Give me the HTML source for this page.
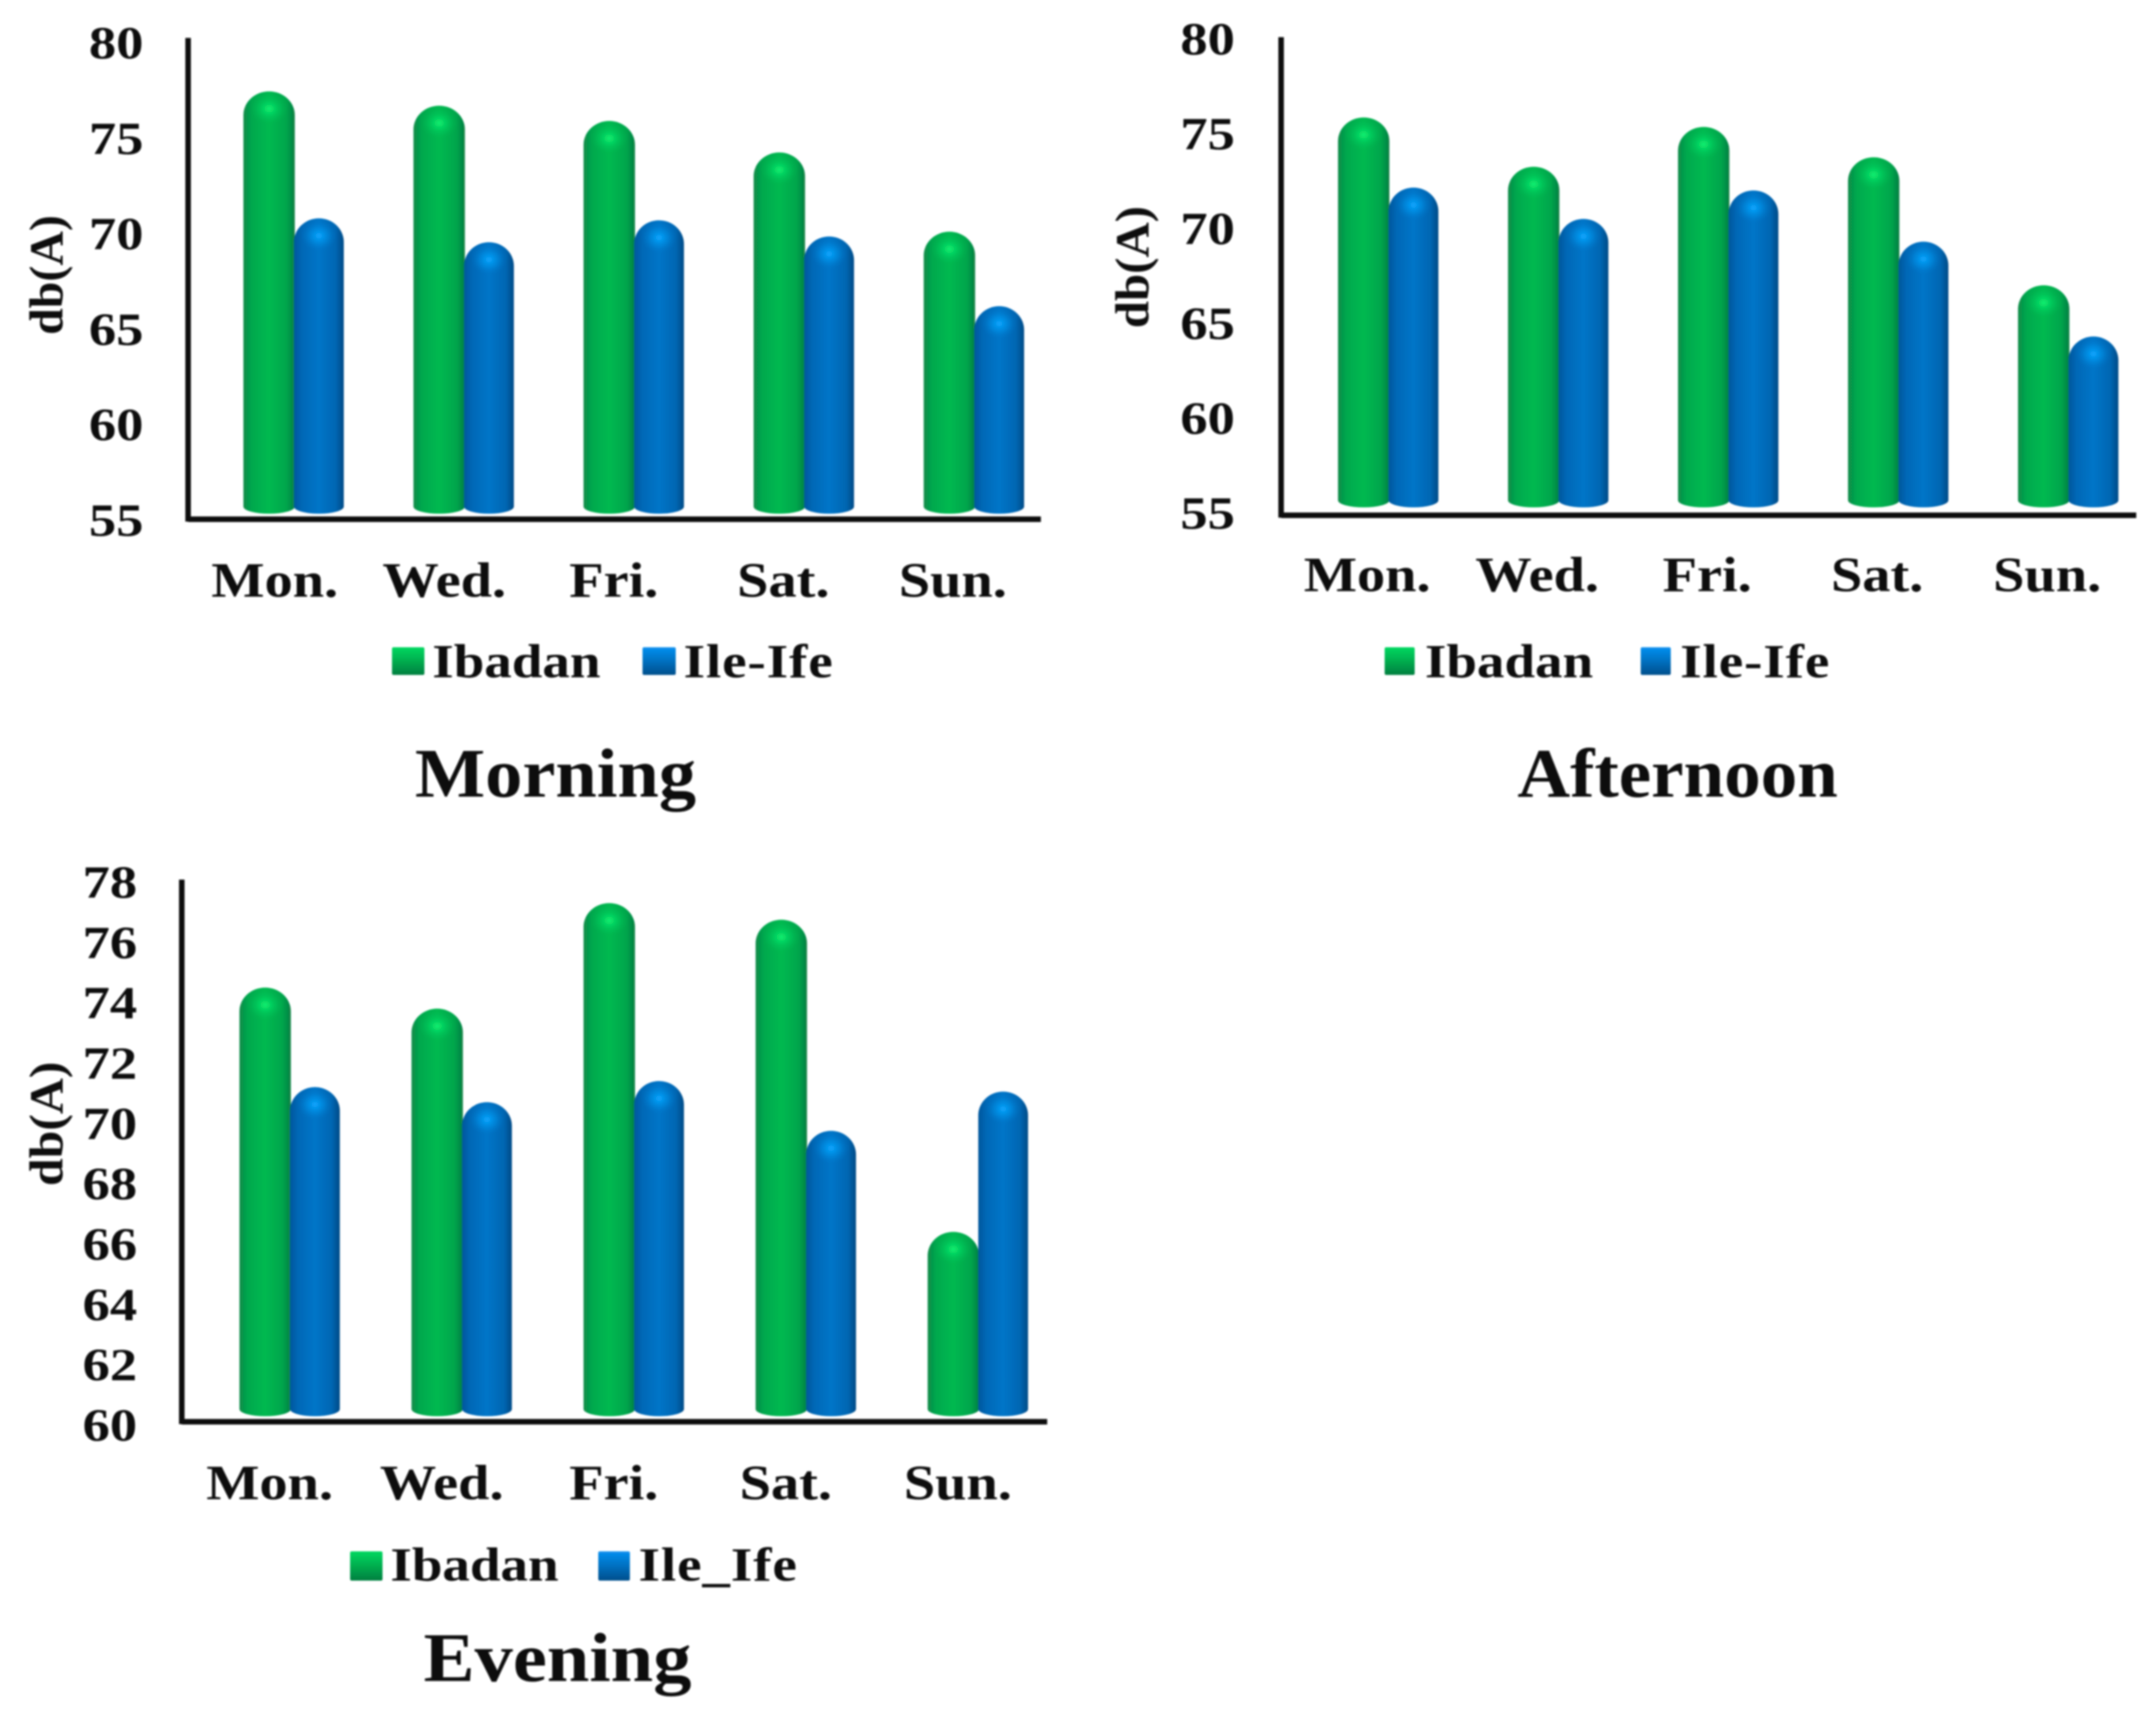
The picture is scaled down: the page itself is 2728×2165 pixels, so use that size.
<!DOCTYPE html>
<html lang="en">
<head>
<meta charset="utf-8">
<title>Noise levels: Morning, Afternoon, Evening</title>
<style>
html,body{margin:0;padding:0;background:#fff;}
svg{display:block;}
text{font-family:"Liberation Serif",serif;font-weight:bold;fill:#0a0a0a;}
</style>
</head>
<body>
<svg id="figure" xmlns="http://www.w3.org/2000/svg" width="2728" height="2165" viewBox="0 0 2728 2165">
<defs>
<linearGradient id="cyl-green" x1="0" x2="1" y1="0" y2="0">
<stop offset="0" stop-color="#0a8a48"/><stop offset=".16" stop-color="#02a84e"/><stop offset=".5" stop-color="#00b950"/><stop offset=".84" stop-color="#02a54c"/><stop offset="1" stop-color="#087f42"/>
</linearGradient>
<linearGradient id="cyl-blue" x1="0" x2="1" y1="0" y2="0">
<stop offset="0" stop-color="#03569c"/><stop offset=".16" stop-color="#0068b6"/><stop offset=".5" stop-color="#0075c8"/><stop offset=".84" stop-color="#0066b2"/><stop offset="1" stop-color="#034a86"/>
</linearGradient>
<radialGradient id="glow-green"><stop offset="0" stop-color="#0cf070"/><stop offset=".5" stop-color="#04cf5e" stop-opacity=".6"/><stop offset="1" stop-color="#00b950" stop-opacity="0"/></radialGradient>
<radialGradient id="glow-blue"><stop offset="0" stop-color="#0aa6ff"/><stop offset=".5" stop-color="#0390e6" stop-opacity=".6"/><stop offset="1" stop-color="#0075c8" stop-opacity="0"/></radialGradient>
<linearGradient id="swatch-green" x1="0" x2="0" y1="0" y2="1"><stop offset="0" stop-color="#00d860"/><stop offset=".5" stop-color="#00ad4e"/><stop offset="1" stop-color="#067f40"/></linearGradient>
<linearGradient id="swatch-blue" x1="0" x2="0" y1="0" y2="1"><stop offset="0" stop-color="#0890f0"/><stop offset=".5" stop-color="#0070c0"/><stop offset="1" stop-color="#034f8c"/></linearGradient>
<filter id="soft" x="-2%" y="-2%" width="104%" height="104%"><feGaussianBlur stdDeviation="1.1"/></filter>
</defs>
<g id="canvas" filter="url(#soft)">

<g>
<text transform="translate(79,348) rotate(-90) scale(1.01,1)" text-anchor="middle" font-size="60">db(A)</text>
<rect x="496" y="819" width="41" height="35" rx="2" fill="url(#swatch-green)"/>
<text transform="translate(547,857) scale(1.16,1)" font-size="60">Ibadan</text>
<rect x="813" y="819" width="42" height="35" rx="2" fill="url(#swatch-blue)"/>
<text transform="translate(865,857) scale(1.16,1)" font-size="60" letter-spacing="1">Ile-Ife</text>
<text transform="translate(525,1008) scale(1.07,1)" font-size="88">Morning</text>
</g>

<g>
<text transform="translate(1453,338) rotate(-90) scale(1.03,1)" text-anchor="middle" font-size="60">db(A)</text>
<rect x="1752" y="819" width="38" height="35" rx="2" fill="url(#swatch-green)"/>
<text transform="translate(1803,857) scale(1.16,1)" font-size="60">Ibadan</text>
<rect x="2076" y="819" width="38" height="35" rx="2" fill="url(#swatch-blue)"/>
<text transform="translate(2126,857) scale(1.16,1)" font-size="60" letter-spacing="1">Ile-Ife</text>
<text transform="translate(1920,1008) scale(1.05,1)" font-size="88">Afternoon</text>
</g>

<g>
<text transform="translate(79,1422) rotate(-90) scale(1.05,1)" text-anchor="middle" font-size="60">db(A)</text>
<rect x="443" y="1963" width="41" height="37" rx="2" fill="url(#swatch-green)"/>
<text transform="translate(494,2000) scale(1.16,1)" font-size="60">Ibadan</text>
<rect x="757" y="1963" width="40" height="37" rx="2" fill="url(#swatch-blue)"/>
<text transform="translate(808,2000) scale(1.16,1)" font-size="60" letter-spacing="1">Ile_Ife</text>
<text transform="translate(536,2127) scale(1.1,1)" font-size="88">Evening</text>
</g>
</g>
</svg>

<script>
const categories = ['Mon.', 'Wed.', 'Fri.', 'Sat.', 'Sun.'];

const morningTicks = [55, 60, 65, 70, 75, 80];
const morningIbadan = [77.45, 76.7, 75.9, 74.25, 70.1];
const morningIleIfe = [70.8, 69.55, 70.7, 69.85, 66.2];

const afternoonTicks = [55, 60, 65, 70, 75, 80];
const afternoonIbadan = [75.85, 73.25, 75.35, 73.75, 67.0];
const afternoonIleIfe = [72.15, 70.5, 72.0, 69.3, 64.3];

const eveningTicks = [60, 62, 64, 66, 68, 70, 72, 74, 76, 78];
const eveningIbadan = [74.5, 73.8, 77.3, 76.75, 66.4];
const eveningIleIfe = [71.2, 70.7, 71.4, 69.75, 71.05];

const SVGNS = 'http://www.w3.org/2000/svg';
const canvas = document.getElementById('canvas');

function make(tag, parent) {
  const el = document.createElementNS(SVGNS, tag);
  parent.appendChild(el);
  return el;
}

function drawPanel(name, layout, ticks, ibadan, ileIfe) {
  const lo = ticks[0];
  const hi = ticks[ticks.length - 1];
  const band = (layout.right - layout.left) / categories.length;
  const yScale = function (v) {
    return layout.yLo + (v - lo) * (layout.yHi - layout.yLo) / (hi - lo);
  };
  const bandCenter = function (i) {
    return layout.left + band * (i + 0.5);
  };
  const barCenter = function (i) {
    return layout.barStart + layout.barStep * i;
  };

  const panel = make('g', canvas);
  
  

  ticks.forEach(function (t) {
    const label = make('text', panel);
    
    
    label.setAttribute('text-anchor', 'middle');
    label.setAttribute('font-size', '58');
    label.setAttribute('transform', 'translate(' + layout.tickX + ',' + (yScale(t) + 20) + ') scale(1.19,1)');
    label.textContent = String(t);
  });

  categories.forEach(function (c, i) {
    const center = barCenter(i);
    const label = make('text', panel);
    
    
    label.setAttribute('text-anchor', 'middle');
    label.setAttribute('font-size', '62');
    label.setAttribute('transform', 'translate(' + (bandCenter(i) + layout.catShift - i * 0.7) + ',' + layout.catY + ') scale(1.15,1)');
    label.textContent = c;

    drawBar(panel, name + '-bar-ibadan', center - 64, 65, yScale(ibadan[i]), layout.base, 'green');
    drawBar(panel, name + '-bar-ile-ife', center, 63, yScale(ileIfe[i]), layout.base, 'blue');
  });

  const yAxis = make('line', panel);
  
  
  yAxis.setAttribute('x1', layout.left);
  yAxis.setAttribute('x2', layout.left);
  yAxis.setAttribute('y1', layout.axisTop);
  yAxis.setAttribute('y2', layout.axisY + 3);
  yAxis.setAttribute('stroke', '#111');
  yAxis.setAttribute('stroke-width', '7');

  const xAxis = make('line', panel);
  
  
  xAxis.setAttribute('x1', layout.left);
  xAxis.setAttribute('x2', layout.right + 3);
  xAxis.setAttribute('y1', layout.axisY);
  xAxis.setAttribute('y2', layout.axisY);
  xAxis.setAttribute('stroke', '#111');
  xAxis.setAttribute('stroke-width', '7');
}

function drawBar(parent, barName, x, w, top, base, color) {
  const rx = w / 2;
  const ry = 30;
  const body = make('path', parent);
  
  
  body.setAttribute('fill', 'url(#cyl-' + color + ')');
  body.setAttribute('d',
    'M' + x + ',' + (top + ry) +
    ' A' + rx + ',' + ry + ' 0 0 1 ' + (x + w) + ',' + (top + ry) +
    ' V' + (base - 6) +
    ' A' + rx + ',9 0 0 1 ' + x + ',' + (base - 6) + ' Z');

  const glow = make('ellipse', parent);
  
  
  glow.setAttribute('cx', x + rx);
  glow.setAttribute('cy', top + 22);
  glow.setAttribute('rx', rx * 0.72);
  glow.setAttribute('ry', 20);
  glow.setAttribute('fill', 'url(#glow-' + color + ')');
}

drawPanel('morning',
  { left: 238, right: 1314, axisTop: 48, axisY: 657, yLo: 658, yHi: 54, tickX: 147, catY: 755, base: 647, catShift: 2, barStart: 372, barStep: 215.2 },
  morningTicks, morningIbadan, morningIleIfe);

drawPanel('afternoon',
  { left: 1621, right: 2700, axisTop: 47, axisY: 652, yLo: 649, yHi: 49, tickX: 1528, catY: 748, base: 639, catShift: 1, barStart: 1757, barStep: 215.1 },
  afternoonTicks, afternoonIbadan, afternoonIleIfe);

drawPanel('evening',
  { left: 230, right: 1322, axisTop: 1113, axisY: 1799, yLo: 1803, yHi: 1116, tickX: 139, catY: 1897, base: 1789, catShift: 2, barStart: 367, barStep: 217.7 },
  eveningTicks, eveningIbadan, eveningIleIfe);
</script>
</body>
</html>
